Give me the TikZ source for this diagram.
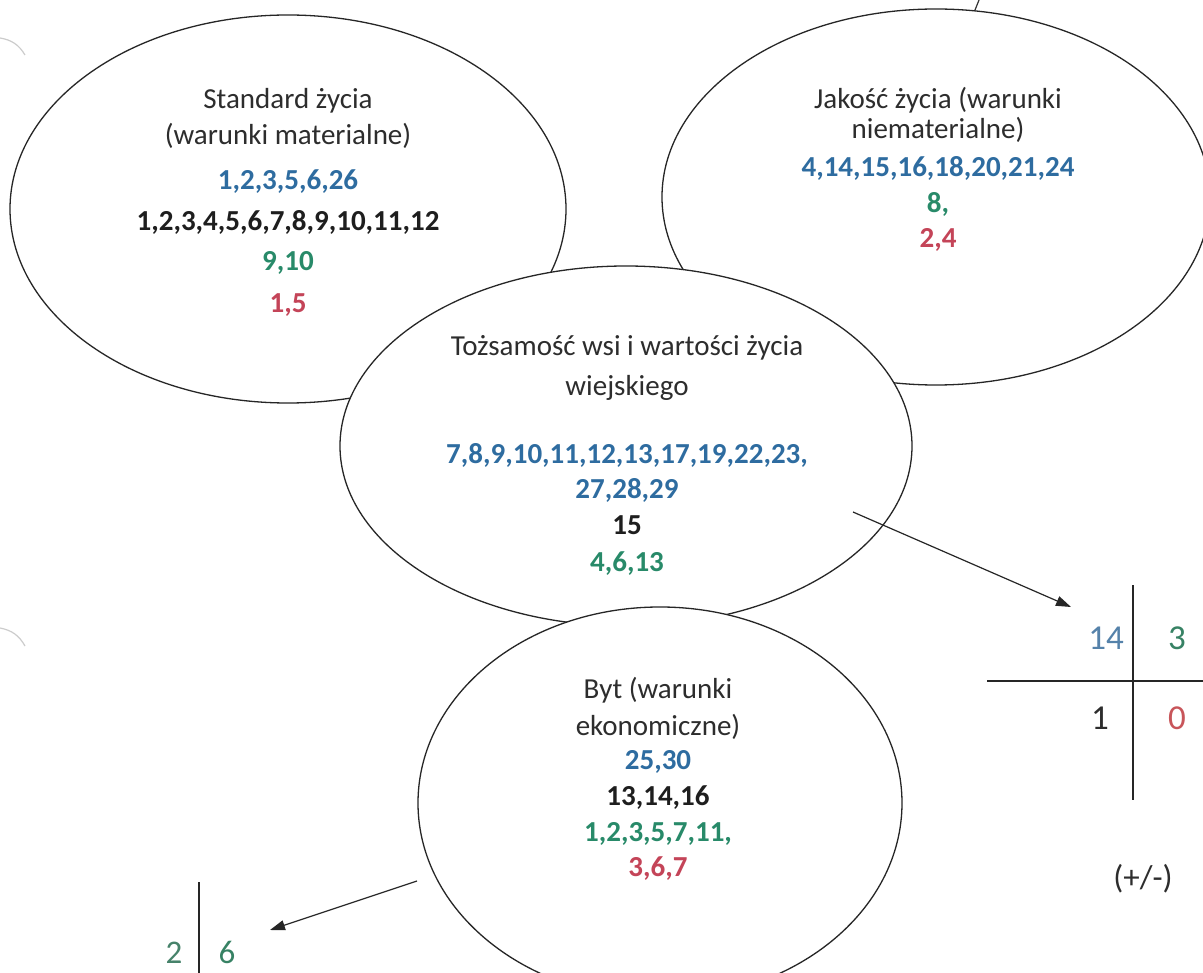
\documentclass[tikz,border=0pt]{standalone}
\usepackage{fontspec}
\setmainfont{Carlito}
\newfontfamily\tabfont{Carlito}
\usetikzlibrary{shapes.geometric,arrows.meta}
\definecolor{cblue}{RGB}{46,108,160}
\definecolor{cgreen}{RGB}{40,138,105}
\definecolor{cred}{RGB}{196,68,88}
\definecolor{cdark}{RGB}{30,30,30}
\definecolor{ctitle}{RGB}{45,45,45}
\definecolor{tblue}{RGB}{85,130,170}
\definecolor{tgreen}{RGB}{55,130,100}
\definecolor{tred}{RGB}{200,85,90}
\begin{document}
\begin{tikzpicture}[x=1pt,y=-1pt,
  bubble/.style={ellipse, draw=black!85, line width=1.3pt, fill=white, inner sep=0pt},
  txt/.style={anchor=base, inner sep=0pt, font=\fontsize{29}{34}\selectfont, text=ctitle},
  num/.style={anchor=base, inner sep=0pt, font=\fontsize{29}{34}\selectfont\bfseries},
  tab/.style={anchor=base, inner sep=0pt, font=\tabfont\fontsize{35}{40}\selectfont},
  conn/.style={draw=black!85, line width=1.2pt, -{Triangle[length=15pt,width=10pt]}},
  rule/.style={draw=black!85, line width=1.3pt}
]
\fill[white] (0,0) rectangle (1203,973);
\useasboundingbox (0,0) rectangle (1203,973);

% faint scan marks
\draw[black!20, line width=1.2pt] (0,38) to[bend left=25] (25,55);
\draw[black!20, line width=1.2pt] (0,628) to[bend left=25] (25,646);
\draw[black!80, line width=1.2pt] (979,0) -- (973,15);

% ellipses
\node[bubble, minimum width=556pt, minimum height=388pt] (e1) at (288,209) {};
\node[bubble, minimum width=548pt, minimum height=376pt] (e2) at (936,197) {};
\node[bubble, minimum width=572pt, minimum height=360pt] (e3) at (626,446) {};
\node[bubble, minimum width=484pt, minimum height=392pt] (e4) at (660,803) {};

% ellipse 1 text
\node[txt] (t1a) at (288,109) {Standard życia};
\node[txt] (t1b) at (288,145) {(warunki materialne)};
\node[num, text=cblue] (t1c) at (288,190) {1,2,3,5,6,26};
\node[num, text=cdark] (t1d) at (288,231) {1,2,3,4,5,6,7,8,9,10,11,12};
\node[num, text=cgreen] (t1e) at (288,271) {9,10};
\node[num, text=cred] (t1f) at (288,313) {1,5};

% ellipse 2 text
\node[txt] (t2a) at (938,109) {Jakość życia (warunki};
\node[txt] (t2b) at (938,139) {niematerialne)};
\node[num, text=cblue] (t2c) at (938,177) {4,14,15,16,18,20,21,24};
\node[num, text=cgreen] (t2d) at (938,213) {8,};
\node[num, text=cred] (t2e) at (938,248) {2,4};

% ellipse 3 text
\node[txt] (t3a) at (627,356) {Tożsamość wsi i wartości życia};
\node[txt] (t3b) at (627,396) {wiejskiego};
\node[num, text=cblue] (t3c) at (627,464) {7,8,9,10,11,12,13,17,19,22,23,};
\node[num, text=cblue] (t3d) at (627,499) {27,28,29};
\node[num, text=cdark] (t3e) at (627,535) {15};
\node[num, text=cgreen] (t3f) at (627,571) {4,6,13};

% ellipse 4 text
\node[txt] (t4a) at (658,698) {Byt (warunki};
\node[txt] (t4b) at (658,735) {ekonomiczne)};
\node[num, text=cblue] (t4c) at (658,769) {25,30};
\node[num, text=cdark] (t4d) at (658,805) {13,14,16};
\node[num, text=cgreen] (t4e) at (658,841) {1,2,3,5,7,11,};
\node[num, text=cred] (t4f) at (658,876) {3,6,7};

% right table
\coordinate (v1t) at (1133,585);
\coordinate (v1b) at (1133,800);
\coordinate (h1l) at (987,681);
\coordinate (h1r) at (1203,681);
\draw[rule] (v1t) -- (v1b);
\draw[rule] (h1l) -- (h1r);
\node[tab, text=tblue] (n14) at (1106,649) {14};
\node[tab, text=tgreen] (n3) at (1177,649) {3};
\node[tab, text=ctitle] (n1) at (1100,729) {1};
\node[tab, text=tred] (n0) at (1177,729) {0};
\node[tab, text=ctitle, font=\tabfont\fontsize{33}{38}\selectfont] (pm) at (1143,888) {(+/-)};

% bottom-left table
\coordinate (v2t) at (199,882);
\coordinate (v2b) at (199,973);
\draw[rule] (v2t) -- (v2b);
\node[tab, text=tgreen!80!gray, font=\tabfont\fontsize{33}{38}\selectfont] (n2) at (174,963) {2};
\node[tab, text=tgreen, font=\tabfont\fontsize{33}{38}\selectfont] (n6) at (227,963) {6};

% arrows
\coordinate (a1s) at (853,512);
\coordinate (a1e) at (1071,607);
\coordinate (a2s) at (417,881);
\coordinate (a2e) at (270,930);
\draw[conn] (a1s) -- (a1e);
\draw[conn] (a2s) -- (a2e);
\end{tikzpicture}
\end{document}
